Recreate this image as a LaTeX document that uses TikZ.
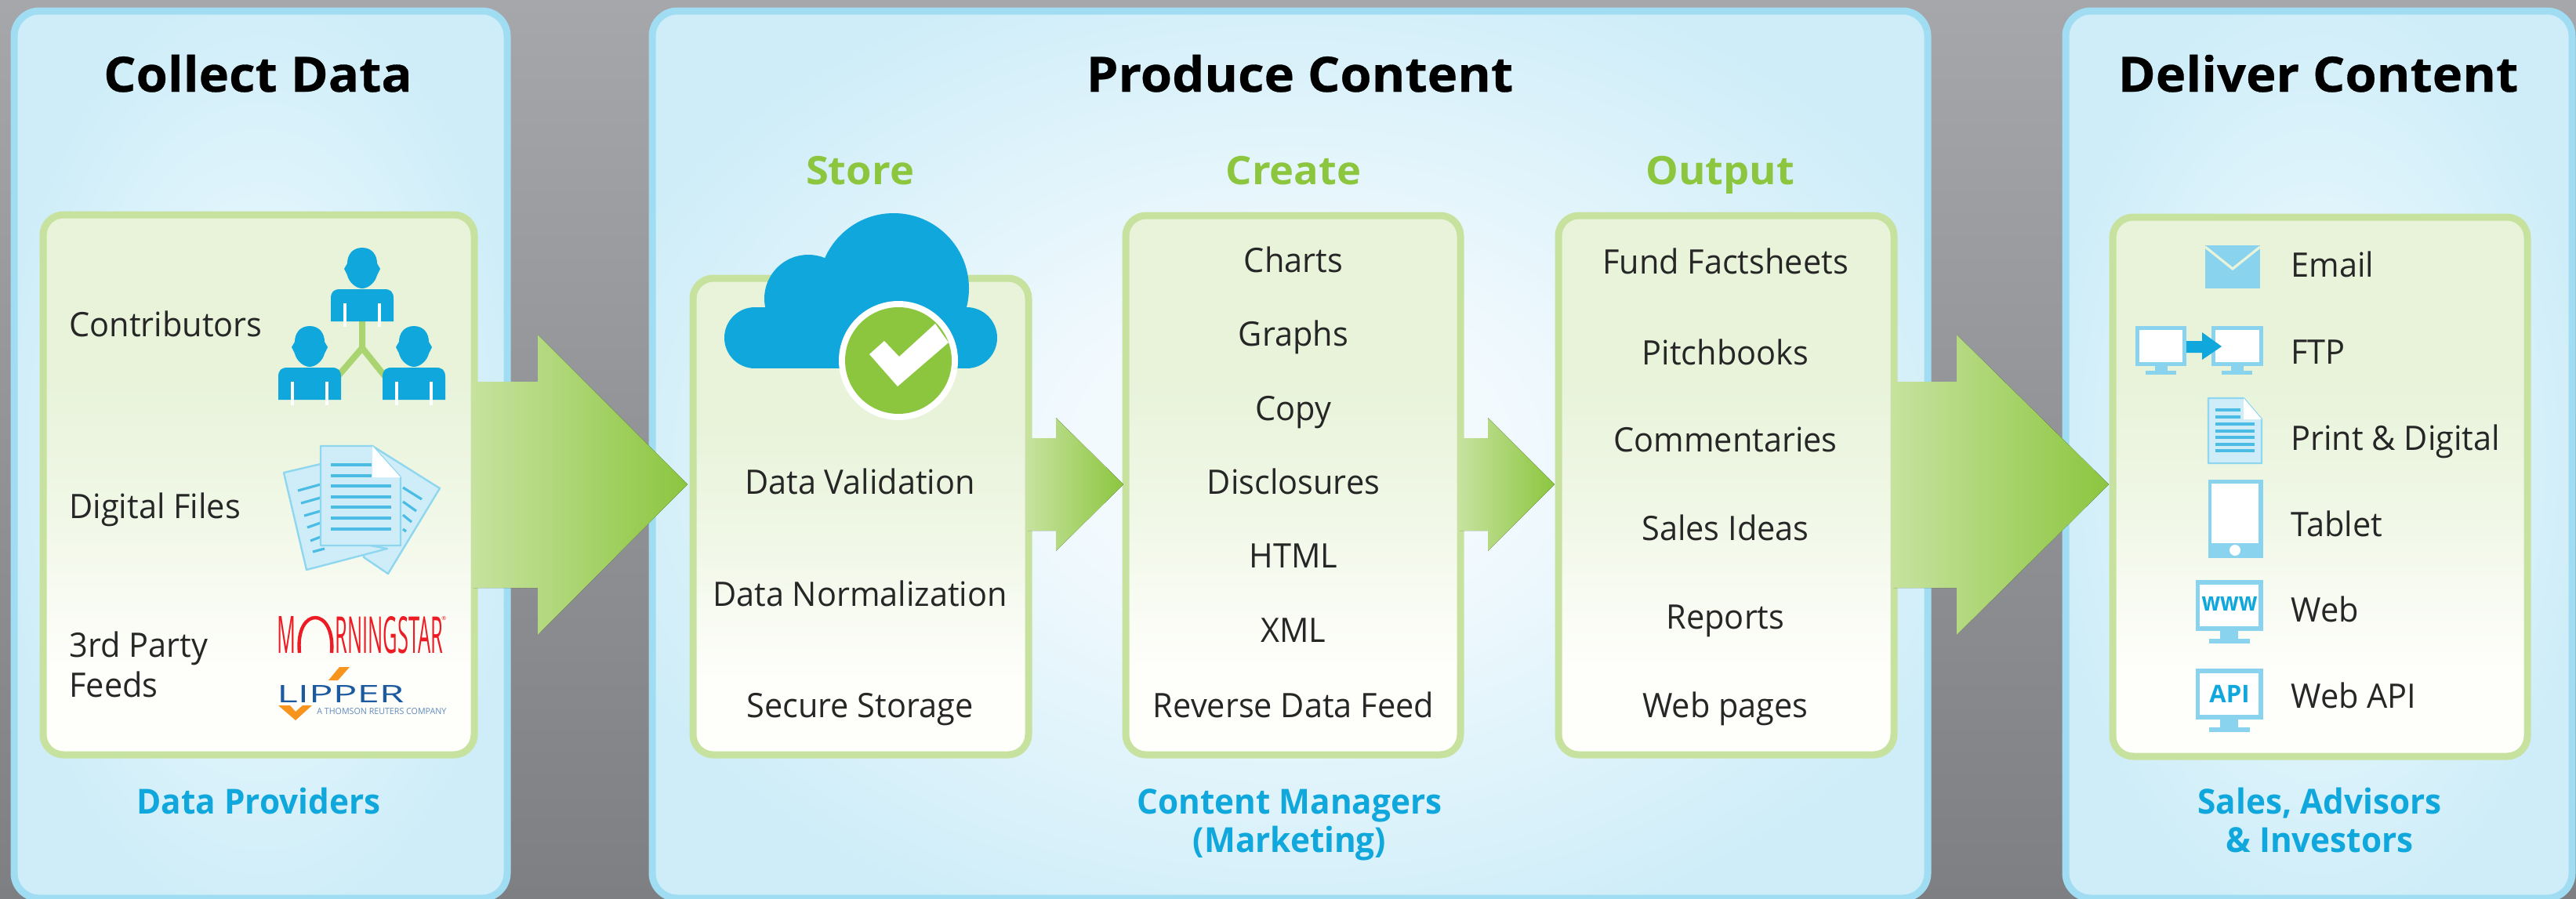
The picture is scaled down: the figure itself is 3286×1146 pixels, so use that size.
\documentclass[tikz,border=0pt]{standalone}
\usepackage{fontspec}
\setmainfont{Open Sans}
\newfontfamily\bodyfont[FakeStretch=0.965]{Open Sans}
\newfontfamily\titlefont[UprightFont={* Bold},FakeStretch=1.05,FakeBold=0.5]{Open Sans}
\newfontfamily\subfont[UprightFont={* Bold},FakeStretch=1.05]{Open Sans}
\newfontfamily\footfont[UprightFont={* Bold},FakeStretch=0.96]{Open Sans}
\usetikzlibrary{calc}
\definecolor{ink}{HTML}{262626}
\definecolor{skyb}{HTML}{0FA7DC}
\definecolor{leaf}{HTML}{8CC63F}
\definecolor{paneledge}{HTML}{A0DCF2}
\definecolor{pale}{HTML}{CFEDF8}
\definecolor{iconb}{HTML}{8AD3EE}
\definecolor{docedge}{HTML}{8FD6EF}
\definecolor{boxedge}{HTML}{C6E29E}
\definecolor{paneA}{HTML}{CEEDF8}
\definecolor{paneB}{HTML}{E2F5FC}
\definecolor{paneC}{HTML}{F3FAFE}
\definecolor{boxA}{HTML}{E8F3DA}
\definecolor{boxB}{HTML}{F0F7E6}
\definecolor{boxC}{HTML}{FEFEFB}
\definecolor{msred}{HTML}{ED1C24}
\definecolor{lipblue}{HTML}{1C5AA0}
\definecolor{liporange}{HTML}{F7941E}
\pgfdeclareradialshading{sidepanel}{\pgfpoint{0bp}{0bp}}{color(0bp)=(paneB); color(12bp)=(paneB); color(27bp)=(paneA); color(75bp)=(paneA)}
\pgfdeclareradialshading{midpanel}{\pgfpoint{0bp}{0bp}}{color(0bp)=(paneC); color(8bp)=(paneC); color(29bp)=(paneA); color(75bp)=(paneA)}
\pgfdeclareverticalshading{boxgrad}{100bp}{color(0bp)=(boxC); color(25bp)=(boxC); color(33bp)=(boxC); color(48bp)=(boxB); color(60bp)=(boxA); color(75bp)=(boxA); color(100bp)=(boxA)}
\tikzset{
  x=0.5pt,y=-0.5pt,
  panelbox/.style={rectangle,draw=paneledge,line width=4.5pt,rounded corners=16pt,outer sep=0pt,inner sep=0pt,anchor=north west},
  innerbox/.style={rectangle,draw=boxedge,line width=4.5pt,rounded corners=13pt,shading=boxgrad,outer sep=0pt,inner sep=0pt,anchor=north west},
  blockarrow/.style={left color=boxedge,right color=leaf,draw=none},
  title/.style={font=\titlefont\fontsize{31}{31}\selectfont,text=black,anchor=base,inner sep=0pt},
  sub/.style={font=\subfont\fontsize{25}{25}\selectfont,text=leaf,anchor=base,inner sep=0pt},
  foot/.style={font=\footfont\fontsize{22}{22}\selectfont,text=skyb,anchor=base,inner sep=0pt},
  item/.style={font=\bodyfont\fontsize{21.5}{21.5}\selectfont,text=ink,anchor=base,inner sep=0pt},
  leftitem/.style={item,anchor=base west},
  docsheet/.style={fill=pale,draw=docedge,line width=1.2pt,line join=round},
  docline/.style={draw=skyb!75!white,line width=1.6pt},
}
\newcommand{\personicon}[2]{%
 \begin{scope}[shift={(#1,#2)}]
  \fill[skyb] (0,0) .. controls (13,0) and (19,10) .. (19,20) -- (23,27) -- (19,35) .. controls (17,44) and (8,52) .. (0,52) .. controls (-8,52) and (-17,44) .. (-19,35) -- (-23,27) -- (-19,20) .. controls (-19,10) and (-13,0) .. (0,0) -- cycle;
  \fill[skyb] (-40,94) -- (-40,65) .. controls (-40,56) and (-36,53) .. (-28,53) -- (28,53) .. controls (36,53) and (40,56) .. (40,65) -- (40,94) -- cycle;
  \fill[white] (-24,71) rectangle (-20,101);
  \fill[white] (20,71) rectangle (24,101);
 \end{scope}}
\newcommand{\bigscreen}[2]{% x1 y1
 \begin{scope}[shift={(#1,#2)}]
  \fill[iconb] (0,0) rectangle (86,65);
  \fill[white] (5,6) rectangle (80,59);
  \fill[iconb] (31,65) rectangle (54,75);
  \fill[iconb] (17,75) rectangle (69,81);
 \end{scope}}
\begin{document}
\begin{tikzpicture}
\useasboundingbox (0,0) rectangle (3286,1146);
\clip (0,0) rectangle (3286,1146);
\shade[top color={rgb,255:red,166;green,167;blue,171},bottom color={rgb,255:red,126;green,127;blue,131}] (0,0) rectangle (3286,1146);
\coordinate (axis) at (0,618);

% panels
\node[panelbox,shading=sidepanel,minimum width=314.5pt,minimum height=566pt] (collect) at (18,14) {};
\node[panelbox,shading=midpanel,minimum width=813.5pt,minimum height=566pt] (produce) at (832,14) {};
\node[panelbox,shading=sidepanel,minimum width=323pt,minimum height=566pt] (deliver) at (2635,14) {};

% inner boxes
\node[innerbox,minimum width=275pt,minimum height=344.5pt] (collectbox) at (55,274) {};
\node[innerbox,minimum width=214pt,minimum height=304pt] (storebox) at (884,355) {};
\node[innerbox,minimum width=213.5pt,minimum height=344pt] (createbox) at (1436,275) {};
\node[innerbox,minimum width=214pt,minimum height=344pt] (outputbox) at (1988,275) {};
\node[innerbox,minimum width=264.5pt,minimum height=344pt] (deliverbox) at (2695,277) {};

% block arrows
\coordinate (a1s) at ($(collectbox.east |- axis)+(-1,0)$);
\coordinate (a1e) at ($(storebox.west |- axis)+(-7,0)$);
\fill[blockarrow] (a1s |- 0,487) -- (686,487) -- (686,427) -- (a1e) -- (686,810) -- (686,750) -- (a1s |- 0,750) -- cycle;
\coordinate (a2s) at ($(storebox.east |- axis)+(-1,0)$);
\coordinate (a2e) at ($(createbox.west |- axis)+(-3,0)$);
\fill[blockarrow] (a2s |- 0,559) -- (1347,559) -- (1347,533) -- (a2e) -- (1347,703) -- (1347,677) -- (a2s |- 0,677) -- cycle;
\coordinate (a3s) at ($(createbox.east |- axis)+(-1,0)$);
\coordinate (a3e) at ($(outputbox.west |- axis)+(-5,0)$);
\fill[blockarrow] (a3s |- 0,559) -- (1898,559) -- (1898,533) -- (a3e) -- (1898,703) -- (1898,677) -- (a3s |- 0,677) -- cycle;
\coordinate (a4s) at ($(outputbox.east |- axis)+(-1,0)$);
\coordinate (a4e) at ($(deliverbox.west |- axis)+(-5,0)$);
\fill[blockarrow] (a4s |- 0,487) -- (2496,487) -- (2496,427) -- (a4e) -- (2496,810) -- (2496,750) -- (a4s |- 0,750) -- cycle;

% titles
\node[title] (t1) at (329,117) {Collect Data};
\node[title] (t2) at (1658,117) {Produce Content};
\node[title] (t3) at (2957,117) {Deliver Content};
\node[sub] (s1) at (1097,235) {Store};
\node[sub] (s2) at (1650,235) {Create};
\node[sub] (s3) at (2194,235) {Output};

% collect labels
\node[leftitem] (c1) at (88,429) {Contributors};
\node[leftitem] (c2) at (88,661) {Digital Files};
\node[leftitem] (c3) at (88,838) {3rd Party};
\node[leftitem] (c4) at (88,889) {Feeds};
\node[foot] (f1) at (330,1038) {Data Providers};

% people icon
\draw[draw=leaf!75!white,line width=4pt] (462,405) -- (462,444) -- (431,480);
\draw[draw=leaf!75!white,line width=4pt] (462,444) -- (491,480);
\personicon{462}{316}
\personicon{395}{416}
\personicon{528}{416}

% documents icon
\draw[docsheet] (475,569) -- (561,623) -- (495,732) -- (464,711) -- cycle;
\draw[docline] (514,622) -- (538,637) (514,640) -- (531,652) (514,657) -- (525,666) (514,675) -- (518,678);
\draw[docsheet] (362,603) -- (409,592) -- (440,690) -- (494,700) -- (391,727) -- cycle;
\draw[docline] (380,626) -- (409,618) (384,642) -- (409,635) (388,658) -- (409,652) (392,673) -- (409,667) (396,690) -- (409,685) (399,704) -- (414,700);
\draw[docsheet] (409,569) -- (475,569) -- (511,609) -- (511,696) -- (409,696) -- cycle;
\fill[white] (475,569) -- (511,609) -- (475,609) -- cycle;
\draw[docline] (422,593) -- (474,593) (422,607) -- (474,607) (422,620) -- (499,620) (422,634) -- (499,634) (422,647) -- (499,647) (422,661) -- (499,661) (422,675) -- (499,675);

% Morningstar
\node[inner sep=0pt,anchor=north west,text=msred] (ms1) at (353,786) {\resizebox{12pt}{23.5pt}{M}};
\draw[msred,line width=2.2pt] (382,833) .. controls (376,773) and (428,773) .. (423,833);
\node[inner sep=0pt,anchor=north west,text=msred] (ms2) at (427,786) {\resizebox{69pt}{23.5pt}{RNINGSTAR}};
\node[inner sep=0pt,anchor=north west,text=msred] (ms3) at (563,786) {\fontsize{3.5}{3.5}\selectfont ®};
% Lipper
\node[inner sep=0pt,anchor=north west,text=lipblue] (l1) at (353,874) {\resizebox{81pt}{11pt}{LIPPER}};
\fill[liporange] (433,851) -- (446,851) -- (431,868) -- (419,868) -- cycle;
\fill[liporange] (355,900) -- (370,900) -- (377,908) -- (386,900) -- (398,900) -- (377,919) -- cycle;
\node[inner sep=0pt,anchor=north west,text=lipblue!70!white] (l2) at (404,903) {\resizebox{82.5pt}{4pt}{A THOMSON REUTERS COMPANY}};

% store
\fill[skyb] (963,431) circle [radius=39];
\fill[skyb] (1233,431) circle [radius=39];
\fill[skyb] (963,392) rectangle (1233,470);
\fill[skyb] (1031,381) circle [radius=56];
\fill[skyb] (1140,368) circle [radius=96];
\fill[white] (1146,460) circle [radius=76];
\fill[leaf] (1146,460) circle [radius=68];
\fill[white] (1109,452) -- (1128,435) -- (1147,455) -- (1193,413) -- (1210,437) -- (1145,493) -- cycle;
\node[item] (st1) at (1097,630) {Data Validation};
\node[item] (st2) at (1097,773) {Data Normalization};
\node[item] (st3) at (1097,915) {Secure Storage};

% create
\node[item] (cr1) at (1650,347) {Charts};
\node[item] (cr2) at (1650,441) {Graphs};
\node[item] (cr3) at (1650,536) {Copy};
\node[item] (cr4) at (1650,630) {Disclosures};
\node[item] (cr5) at (1650,724) {HTML};
\node[item] (cr6) at (1650,819) {XML};
\node[item] (cr7) at (1650,915) {Reverse Data Feed};

% output
\node[item] (o1) at (2201,349) {Fund Factsheets};
\node[item] (o2) at (2201,465) {Pitchbooks};
\node[item] (o3) at (2201,576) {Commentaries};
\node[item] (o4) at (2201,689) {Sales Ideas};
\node[item] (o5) at (2201,802) {Reports};
\node[item] (o6) at (2201,915) {Web pages};

\node[foot] (f2a) at (1645,1038) {Content Managers};
\node[foot] (f2b) at (1645,1087) {(Marketing)};

% deliver
\node[leftitem] (d1) at (2922,353) {Email};
\node[leftitem] (d2) at (2922,464) {FTP};
\node[leftitem] (d3) at (2922,574) {Print \& Digital};
\node[leftitem] (d4) at (2922,684) {Tablet};
\node[leftitem] (d5) at (2922,793) {Web};
\node[leftitem] (d6) at (2922,903) {Web API};
\node[foot] (f3a) at (2959,1038) {Sales, Advisors};
\node[foot] (f3b) at (2959,1087) {\& Investors};

% email
\fill[iconb] (2813,313) rectangle (2883,368);
\draw[boxA,line width=1.6pt] (2813,315) -- (2848,343) -- (2883,315);
% ftp
\fill[iconb] (2724,416) rectangle (2789,467);
\fill[white] (2729,421) rectangle (2784,462);
\fill[iconb] (2749,467) rectangle (2765,473);
\fill[iconb] (2737,473) rectangle (2776,478);
\fill[iconb] (2821,416) rectangle (2887,467);
\fill[white] (2826,421) rectangle (2882,462);
\fill[iconb] (2846,467) rectangle (2862,473);
\fill[iconb] (2834,473) rectangle (2873,478);
\fill[skyb] (2789,435) -- (2809,435) -- (2809,424) -- (2834,442) -- (2809,459) -- (2809,450) -- (2789,450) -- cycle;
% print doc
\draw[docsheet] (2817,508) -- (2862,508) -- (2885,535) -- (2885,591) -- (2817,591) -- cycle;
\fill[white] (2862,508) -- (2885,535) -- (2862,535) -- cycle;
\draw[docline] (2826,523) -- (2858,523) (2826,532) -- (2858,532) (2826,541) -- (2876,541) (2826,550) -- (2876,550) (2826,558) -- (2876,558) (2826,567) -- (2876,567) (2826,575) -- (2876,575);
% tablet
\fill[iconb] (2817,612) rectangle (2887,712);
\fill[white] (2821,617) rectangle (2881,693);
\fill[white] (2851,702) circle [radius=7];
% web
\bigscreen{2801}{740}
\node[inner sep=0pt,text=skyb] (www) at (2844,770) {\bfseries\fontsize{15}{15}\selectfont\scalebox{0.92}[1.1]{www}};
\bigscreen{2801}{853}
\node[inner sep=0pt,text=skyb] (api) at (2844,885) {\bfseries\fontsize{15.5}{15.5}\selectfont API};
\end{tikzpicture}
\end{document}
